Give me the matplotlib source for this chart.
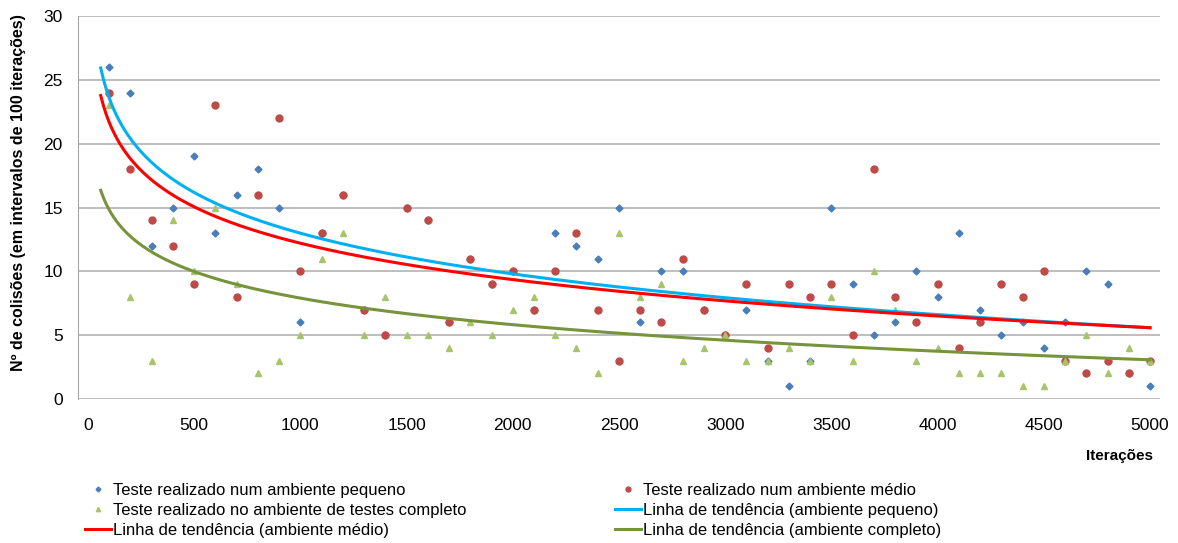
import matplotlib.pyplot as plt
import numpy as np

plt.rcParams['font.family'] = ['Liberation Sans', 'DejaVu Sans']

# dados (colisões por intervalo de 100 iterações)
iteracoes = np.arange(100, 5001, 100)
pequeno = [26, 24, 12, 15, 19, 13, 16, 18, 15, 6,
           13, 16, 7, 5, 15, 14, 6, 11, 9, 10,
           7, 13, 12, 11, 15, 6, 10, 10, 7, 5,
           7, 3, 1, 3, 15, 9, 5, 6, 10, 8,
           13, 7, 5, 6, 4, 6, 10, 9, 2, 1]
medio = [24, 18, 14, 12, 9, 23, 8, 16, 22, 10,
         13, 16, 7, 5, 15, 14, 6, 11, 9, 10,
         7, 10, 13, 7, 3, 7, 6, 11, 7, 5,
         9, 4, 9, 8, 9, 5, 18, 8, 6, 9,
         4, 6, 9, 8, 10, 3, 2, 3, 2, 3]
completo = [23, 8, 3, 14, 10, 15, 9, 2, 3, 5,
            11, 13, 5, 8, 5, 5, 4, 6, 5, 7,
            8, 5, 4, 2, 13, 8, 9, 3, 4, 5,
            3, 3, 4, 3, 8, 3, 10, 7, 3, 4,
            2, 2, 2, 1, 1, 3, 5, 2, 4, 3]

labels_pontos = ['Teste realizado num ambiente pequeno',
                 'Teste realizado num ambiente médio',
                 'Teste realizado no ambiente de testes completo']
labels_linhas = ['Linha de tendência (ambiente pequeno)',
                 'Linha de tendência (ambiente médio)',
                 'Linha de tendência (ambiente completo)']


def tendencia_log(x, y, xs):
    '''Linha de tendência logarítmica (y = a + b*ln x)'''
    b, a = np.polyfit(np.log(x), y, 1)
    return a + b * np.log(xs)


fig = plt.figure(figsize=(11.78, 5.43), dpi=100)
ax = fig.add_axes([0.0662, 0.2652, 0.9185, 0.7053])

pt_blue, = ax.plot(iteracoes, pequeno, 'D', ms=3.5, color='#4a7ebb', ls='none', label=labels_pontos[0])
pt_red, = ax.plot(iteracoes, medio, 'o', ms=5, color='#be4b48', ls='none', label=labels_pontos[1])
pt_green, = ax.plot(iteracoes, completo, '^', ms=4.5, color='#a8c46a', ls='none', label=labels_pontos[2])

xs = np.linspace(60, 5000, 400)
ln_blue, = ax.plot(xs, tendencia_log(iteracoes, pequeno, xs), color='#00b0f0', lw=2.2, label=labels_linhas[0])
ln_red, = ax.plot(xs, tendencia_log(iteracoes, medio, xs), color='#ff0000', lw=2.2, label=labels_linhas[1])
ln_green, = ax.plot(xs, tendencia_log(iteracoes, completo, xs), color='#77933c', lw=2.2, label=labels_linhas[2])

ax.set_xlim(-47, 5047)
ax.set_ylim(0, 30)
ax.set_xticks(np.arange(0, 5001, 500))
ax.set_yticks(np.arange(0, 31, 5))
ax.yaxis.grid(True, color='#b3b3b3', lw=1.2)
ax.set_axisbelow(True)
ax.tick_params(length=0, labelsize=12.5)
ax.tick_params(axis='x', pad=14)
ax.tick_params(axis='y', pad=11)
for s in ['top', 'right', 'bottom']:
    ax.spines[s].set_visible(False)
ax.spines['left'].set_color('#a6a6a6')

fig.text(0.016, 0.645, 'Nº de colisões (em intervalos de 100 iterações)', rotation=90,
         ha='center', va='center', fontsize=11.5, fontweight='bold')
fig.text(0.979, 0.160, 'Iterações', ha='right', va='center', fontsize=11, fontweight='bold')

leg_kw = dict(frameon=False, loc='upper left', fontsize=12, borderpad=0, borderaxespad=0,
              handlelength=1.55, handletextpad=0.15, labelspacing=0.3, markerscale=0.7)
fig.legend([pt_blue, pt_green, ln_red], [labels_pontos[0], labels_pontos[2], labels_linhas[1]],
           bbox_to_anchor=(0.072, 0.111), **leg_kw)
fig.legend([pt_red, ln_blue, ln_green], [labels_pontos[1], labels_linhas[0], labels_linhas[2]],
           bbox_to_anchor=(0.522, 0.111), **leg_kw)

fig.savefig('out.png', dpi=100)
